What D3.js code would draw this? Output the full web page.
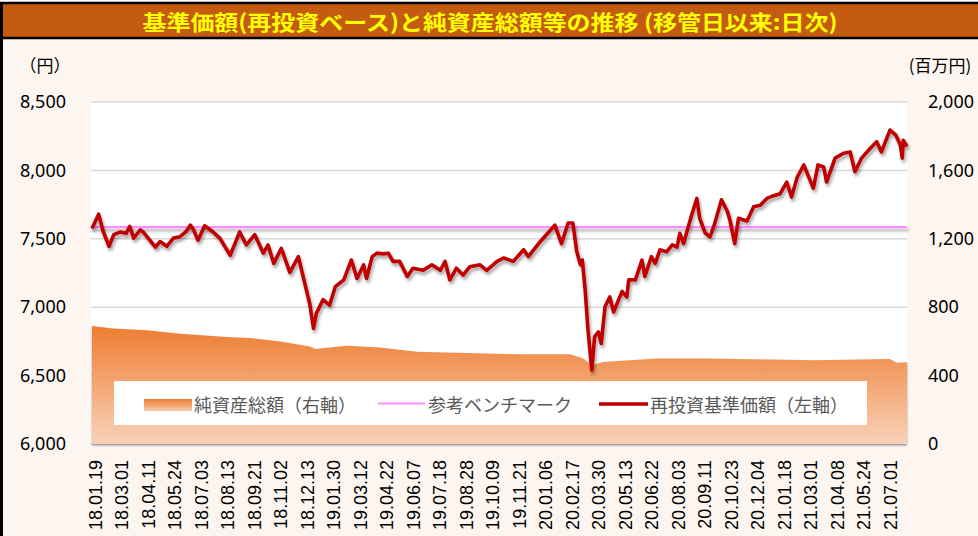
<html>
<head>
<meta charset="utf-8">
<title>基準価額と純資産総額の推移</title>
<style>
    body { margin: 0; background: #fff; }
    svg { display: block; }
    .num { font-family: "Noto Sans", sans-serif; font-size: 18px; fill: #000; }
    .jp { font-family: "Noto Sans CJK JP", sans-serif; }
    .xlab { font-family: "Liberation Sans", Arial, sans-serif; font-size: 18px; fill: #000; }
</style>
</head>
<body>
<svg></svg>
<script src="https://d3js.org/d3.v7.min.js"></script>
<script>
    const width = 978, height = 536;

    // x axis category labels, one every 28 trading days
    const tickLabels = ["18.01.19", "18.03.01", "18.04.11", "18.05.24", "18.07.03", "18.08.13", "18.09.21",
        "18.11.02", "18.12.13", "19.01.30", "19.03.12", "19.04.22", "19.06.07", "19.07.18", "19.08.28",
        "19.10.09", "19.11.21", "20.01.06", "20.02.17", "20.03.30", "20.05.13", "20.06.22", "20.08.03",
        "20.09.11", "20.10.23", "20.12.04", "21.01.18", "21.03.01", "21.04.08", "21.05.24", "21.07.01"];
    const tickStep = 28;
    const lastDay = 861;

    // 再投資基準価額 (left axis), read at trading day index
    const navDays = [0, 7, 12, 18, 23, 30, 36, 40, 44, 51, 54, 61, 67, 72, 79, 86, 93, 99, 104, 107,
        112, 119, 128, 135, 146, 156, 163, 172, 181, 186, 192, 200, 209, 218, 223, 230, 234, 237, 244, 251,
        257, 266, 274, 280, 287, 290, 296, 301, 308, 313, 318, 325, 333, 339, 350, 359, 368, 373, 378, 385,
        392, 399, 410, 417, 428, 435, 445, 456, 461, 473, 480, 489, 496, 503, 508, 512, 516, 518, 521, 524,
        528, 531, 535, 538, 542, 547, 551, 560, 565, 567, 574, 581, 584, 591, 595, 600, 607, 613, 618, 621,
        625, 630, 634, 639, 642, 648, 653, 658, 665, 671, 674, 679, 683, 692, 699, 706, 713, 720, 727, 734,
        739, 745, 752, 757, 762, 767, 773, 776, 785, 794, 801, 806, 813, 822, 829, 834, 843, 849, 854, 856,
        857, 861];
    const navValues = [7575, 7680, 7550, 7445, 7530, 7550, 7540, 7590, 7505, 7565, 7550, 7490, 7440, 7480, 7445, 7505, 7515, 7550, 7600, 7570,
        7490, 7595, 7550, 7505, 7380, 7550, 7455, 7530, 7395, 7455, 7320, 7430, 7255, 7370, 7225, 7025, 6845, 6955, 7055, 7015,
        7150, 7200, 7345, 7210, 7310, 7210, 7370, 7395, 7390, 7395, 7335, 7335, 7225, 7285, 7270, 7310, 7270, 7335, 7200, 7285,
        7235, 7295, 7310, 7270, 7335, 7360, 7335, 7420, 7370, 7475, 7530, 7600, 7465, 7615, 7615, 7410, 7310, 7345, 7125, 6835,
        6540, 6785, 6820, 6735, 7005, 7075, 6965, 7115, 7075, 7200, 7200, 7345, 7225, 7370, 7320, 7420, 7405, 7455, 7440, 7540,
        7465, 7590, 7685, 7795, 7650, 7540, 7515, 7615, 7785, 7705, 7635, 7465, 7650, 7630, 7735, 7745, 7795, 7815, 7830, 7915,
        7805, 7950, 8040, 7955, 7870, 8040, 8025, 7915, 8090, 8125, 8135, 7990, 8090, 8160, 8210, 8135, 8295, 8260, 8185, 8090,
        8220, 8175];

    // 純資産総額 (right axis, 百万円)
    const assetDays = [0, 22, 58, 93, 146, 167, 199, 230, 236, 269, 304, 343, 449, 505, 519, 528, 540, 597, 650, 762, 843, 850, 861];
    const assetValues = [690, 675, 665, 645, 625, 620, 600, 570, 555, 575, 565, 540, 525, 525, 500, 460, 480, 500, 500, 490, 497, 475, 478];

    // 参考ベンチマーク
    const benchmarkValue = 7585;

    const leftTicks = [6000, 6500, 7000, 7500, 8000, 8500];
    const rightTicks = [0, 400, 800, 1200, 1600, 2000];

    const legendItems = ["純資産総額（右軸）", "参考ベンチマーク", "再投資基準価額（左軸）"];

    // plot frame
    const plot = { left: 91, right: 907, top: 102, bottom: 444 };

    const svg = d3.select("svg")
        .attr("width", width)
        .attr("height", height);

    const defs = svg.append("defs");

    const areaGrad = defs.append("linearGradient")
        .attr("id", "areaGrad")
        .attr("gradientUnits", "userSpaceOnUse")
        .attr("x1", 0).attr("x2", 0).attr("y1", 326).attr("y2", plot.bottom);
    areaGrad.append("stop").attr("offset", "0%").attr("stop-color", "#ED7D31");
    areaGrad.append("stop").attr("offset", "100%").attr("stop-color", "#F9D2B8");

    const swatchGrad = defs.append("linearGradient")
        .attr("id", "swatchGrad")
        .attr("x1", 0).attr("x2", 0).attr("y1", 0).attr("y2", 1);
    swatchGrad.append("stop").attr("offset", "0%").attr("stop-color", "#ED7D31");
    swatchGrad.append("stop").attr("offset", "100%").attr("stop-color", "#F8CBAD");

    // shadow filter in user space so a flat horizontal line still gets it
    const shadow = defs.append("filter")
        .attr("id", "shadow")
        .attr("filterUnits", "userSpaceOnUse")
        .attr("x", 0).attr("y", 0).attr("width", width).attr("height", height);
    shadow.append("feDropShadow")
        .attr("dx", 1.5).attr("dy", 3).attr("stdDeviation", 1.6)
        .attr("flood-color", "#000").attr("flood-opacity", 0.35);

    const areaShadow = defs.append("filter")
        .attr("id", "areaShadow")
        .attr("filterUnits", "userSpaceOnUse")
        .attr("x", 0).attr("y", 0).attr("width", width).attr("height", height);
    areaShadow.append("feDropShadow")
        .attr("dx", 0).attr("dy", 1.5).attr("stdDeviation", 1)
        .attr("flood-color", "#000").attr("flood-opacity", 0.35);

    // page background and title bar
    svg.append("rect")
        .attr("x", 0).attr("y", 0).attr("width", width).attr("height", height)
        .attr("fill", "#FCF5F0");
    svg.append("rect")
        .attr("x", 0).attr("y", 0).attr("width", width).attr("height", 2)
        .attr("fill", "#fff");
    svg.append("rect")
        .attr("x", 1).attr("y", 3).attr("width", width + 5).attr("height", 35)
        .attr("fill", "#C55A11")
        .attr("stroke", "#000").attr("stroke-width", 2.5);
    svg.append("line")
        .attr("x1", 1.5).attr("x2", 1.5).attr("y1", 3).attr("y2", height)
        .attr("stroke", "#000").attr("stroke-width", 3);

    svg.append("text")
        .attr("class", "jp")
        .attr("x", 490).attr("y", 21)
        .attr("text-anchor", "middle")
        .attr("dominant-baseline", "central")
        .attr("textLength", 695)
        .attr("lengthAdjust", "spacingAndGlyphs")
        .attr("font-size", 21)
        .attr("font-weight", "bold")
        .attr("fill", "#FFFF00")
        .text("基準価額(再投資ベース)と純資産総額等の推移 (移管日以来:日次)");

    // scales
    const x = d3.scaleLinear().domain([0, lastDay]).range([plot.left + 1, plot.right]);
    const yLeft = d3.scaleLinear().domain([6000, 8500]).range([plot.bottom, plot.top]);
    const yRight = d3.scaleLinear().domain([0, 2000]).range([plot.bottom, plot.top]);

    // plot area
    svg.append("rect")
        .attr("x", plot.left).attr("y", plot.top)
        .attr("width", plot.right - plot.left).attr("height", plot.bottom - plot.top)
        .attr("fill", "#fff");

    svg.selectAll(".grid")
        .data(leftTicks)
        .join("line")
        .attr("class", "grid")
        .attr("x1", plot.left).attr("x2", plot.right)
        .attr("y1", d => yLeft(d)).attr("y2", d => yLeft(d))
        .attr("stroke", "#D9D9D9").attr("stroke-width", 1.5);

    // net assets area
    const assets = assetDays.map((d, i) => ({ day: d, value: assetValues[i] }));
    svg.append("path")
        .datum(assets)
        .attr("fill", "url(#areaGrad)")
        .attr("filter", "url(#areaShadow)")
        .attr("d", d3.area()
            .x(d => x(d.day))
            .y0(plot.bottom)
            .y1(d => yRight(d.value)));

    // benchmark line
    svg.append("line")
        .attr("x1", plot.left).attr("x2", plot.right)
        .attr("y1", yLeft(benchmarkValue)).attr("y2", yLeft(benchmarkValue))
        .attr("stroke", "#FF8CFF").attr("stroke-width", 2.2)
        .attr("filter", "url(#shadow)");

    // NAV line
    const nav = navDays.map((d, i) => ({ day: d, value: navValues[i] }));
    svg.append("path")
        .datum(nav)
        .attr("fill", "none")
        .attr("stroke", "#C00000")
        .attr("stroke-width", 3.6)
        .attr("stroke-linejoin", "round")
        .attr("filter", "url(#shadow)")
        .attr("d", d3.line()
            .x(d => x(d.day))
            .y(d => yLeft(d.value)));

    // left axis
    const leftAxis = svg.append("g")
        .attr("transform", "translate(66,0)")
        .call(d3.axisLeft(yLeft).tickValues(leftTicks).tickFormat(d3.format(",")).tickSize(0).tickPadding(0));
    leftAxis.select(".domain").remove();
    leftAxis.selectAll("text").attr("class", "num").attr("font-family", null).attr("font-size", null);

    // right axis
    const rightAxis = svg.append("g")
        .attr("transform", "translate(928,0)")
        .call(d3.axisRight(yRight).tickValues(rightTicks).tickFormat(d3.format(",")).tickSize(0).tickPadding(0));
    rightAxis.select(".domain").remove();
    rightAxis.selectAll("text").attr("class", "num").attr("font-family", null).attr("font-size", null);

    // unit labels
    svg.append("text")
        .attr("class", "jp")
        .attr("x", 45).attr("y", 64)
        .attr("text-anchor", "middle")
        .attr("dominant-baseline", "central")
        .attr("font-size", 17)
        .text("（円）");
    svg.append("text")
        .attr("class", "jp")
        .attr("x", 940).attr("y", 64)
        .attr("text-anchor", "middle")
        .attr("dominant-baseline", "central")
        .attr("font-size", 17)
        .text("(百万円)");

    // x axis labels
    const xAxis = svg.append("g")
        .attr("transform", "translate(0," + plot.bottom + ")")
        .call(d3.axisBottom(x)
            .tickValues(d3.range(tickLabels.length).map(k => k * tickStep))
            .tickFormat((d, i) => tickLabels[i])
            .tickSize(0));
    xAxis.select(".domain").remove();
    xAxis.selectAll("text")
        .attr("class", "xlab")
        .attr("font-family", null).attr("font-size", null)
        .attr("transform", "rotate(-90)")
        .attr("text-anchor", "end")
        .attr("x", -16)
        .attr("y", 3)
        .attr("dy", "0.35em");

    // legend
    const legend = svg.append("g");
    legend.append("rect")
        .attr("x", 114).attr("y", 381).attr("width", 753).attr("height", 44)
        .attr("fill", "#fff");
    legend.append("rect")
        .attr("x", 144).attr("y", 399).attr("width", 48).attr("height", 12)
        .attr("fill", "url(#swatchGrad)");
    legend.append("line")
        .attr("x1", 378).attr("x2", 425).attr("y1", 403.5).attr("y2", 403.5)
        .attr("stroke", "#FF8CFF").attr("stroke-width", 2);
    legend.append("line")
        .attr("x1", 599).attr("x2", 648).attr("y1", 404).attr("y2", 404)
        .attr("stroke", "#C00000").attr("stroke-width", 3.5);
    legend.selectAll(".legtext")
        .data(legendItems)
        .join("text")
        .attr("class", "jp legtext")
        .attr("x", (d, i) => [194, 428, 650][i])
        .attr("y", 404)
        .attr("dominant-baseline", "central")
        .attr("font-size", 18)
        .attr("fill", "#595959")
        .text(d => d);
</script>
</body>
</html>
